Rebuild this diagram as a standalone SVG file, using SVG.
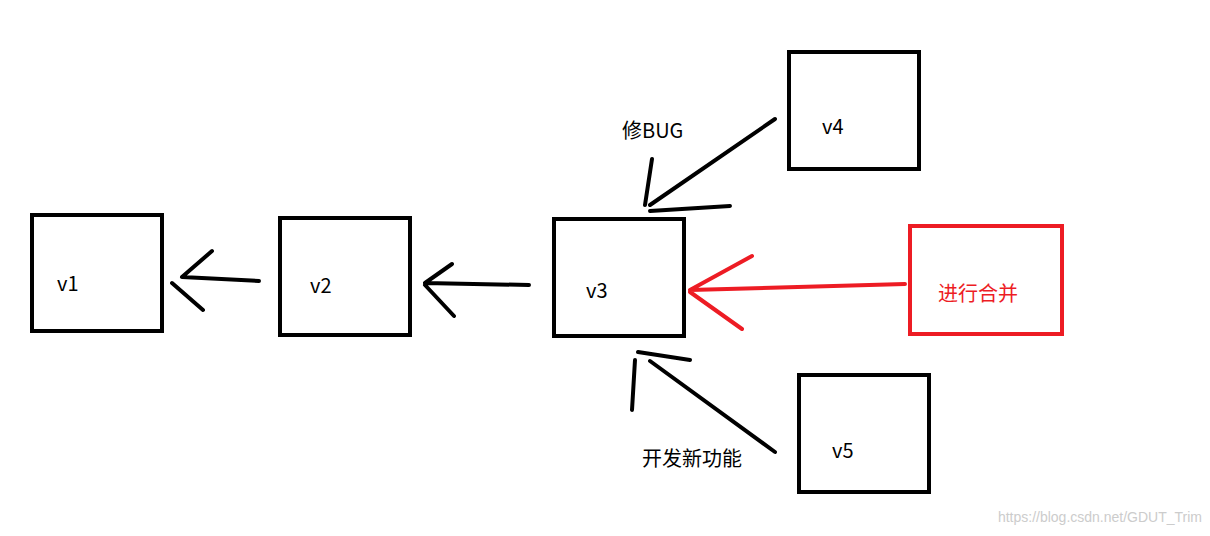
<svg xmlns="http://www.w3.org/2000/svg" width="1210" height="536" viewBox="0 0 1210 536">
<style>
.b{fill:none;stroke:#000;stroke-width:4}
.r{fill:none;stroke:#ed1c24;stroke-width:4}
.l{stroke:#000;stroke-width:4;stroke-linecap:round;fill:none}
.lr{stroke:#ed1c24;stroke-width:4;stroke-linecap:round;fill:none}
text{font-family:"Microsoft YaHei","Noto Sans CJK SC",sans-serif;font-size:20px}
</style>
<rect width="1210" height="536" fill="#fff"/>
<g id="v1"><rect class="b" x="32" y="215" width="130" height="116"/><text x="57" y="291">v1</text></g>
<g id="v2"><rect class="b" x="280" y="218" width="130" height="117"/><text x="310" y="293">v2</text></g>
<g id="v3"><rect class="b" x="554" y="219" width="130" height="117"/><text x="586" y="298">v3</text></g>
<g id="v4"><rect class="b" x="789" y="52" width="130" height="117"/><text x="822" y="134">v4</text></g>
<g id="v5"><rect class="b" x="799" y="375" width="130" height="117"/><text x="832" y="458">v5</text></g>
<g id="merge"><rect class="r" x="910" y="226" width="152" height="108"/><text x="938" y="301" fill="#ed1c24">进行合并</text></g>
<g id="connectors">
<path class="l" d="M259,281 L182,277 M182,277 L212,251 M172,283 L203,310"/>
<path class="l" d="M529,285 L425,283 M425,283 L452,264 M425,285 L454,316"/>
<path class="l" d="M775,119 L650,205 M645,205 L652,159 M650,211 L730,206"/>
<path class="l" d="M775,452 L650,361 M638,352 L690,360 M635,360 L632,410"/>
<path class="lr" d="M905,284 L690,290 M690,290 L752,256 M690,292 L742,329"/>
</g>
<text x="622" y="138">修BUG</text>
<text x="642" y="466">开发新功能</text>
<text x="1202" y="522" text-anchor="end" fill="#ccc" style="font-size:14px;font-family:'Liberation Sans',sans-serif">https://blog.csdn.net/GDUT_Trim</text>
</svg>
